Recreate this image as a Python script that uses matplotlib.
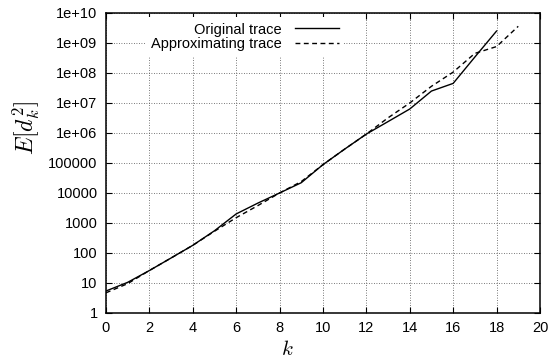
import matplotlib
matplotlib.use('Agg')
import matplotlib.pyplot as plt
from matplotlib.ticker import NullLocator

plt.rcParams['font.family'] = ['Liberation Sans', 'DejaVu Sans']
plt.rcParams['mathtext.fontset'] = 'cm'

# mean squared distance per step, measured trace
k_orig = list(range(19))
e_orig = [5.4, 10.5, 26, 68, 180, 550, 2000, 4600, 1.0e4, 2.2e4, 8.8e4, 2.9e5,
          9.2e5, 2.4e6, 6.3e6, 2.5e7, 4.5e7, 3.4e8, 2.5e9]

# fitted / approximating trace
k_approx = list(range(20))
e_approx = [4.7, 9.5, 26, 68, 180, 530, 1500, 3800, 1.0e4, 2.4e4, 8.8e4, 2.9e5,
            9.2e5, 3.2e6, 1.0e7, 3.6e7, 1.07e8, 4.5e8, 7.6e8, 3.6e9]

x_ticks = list(range(0, 21, 2))
y_ticks = [1, 10, 100, 1e3, 1e4, 1e5, 1e6, 1e7, 1e8, 1e9, 1e10]
y_tick_labels = ['1', '10', '100', '1000', '10000', '100000',
                 '1e+06', '1e+07', '1e+08', '1e+09', '1e+10']

fig = plt.figure(figsize=(5.49, 3.6), dpi=100)
ax = fig.add_axes([0.193, 0.1306, 0.7905, 0.8333])

ax.plot(k_orig, e_orig, color='black', lw=1.0, label='Original trace')
ax.plot(k_approx, e_approx, color='black', lw=1.0, dashes=(3.5, 2.5),
        label='Approximating trace')

ax.set_yscale('log')
ax.set_xlim(0, 20)
ax.set_ylim(1, 1e10)
ax.set_xticks(x_ticks)
ax.set_yticks(y_ticks, y_tick_labels)
ax.yaxis.set_minor_locator(NullLocator())
ax.xaxis.set_minor_locator(NullLocator())
ax.tick_params(direction='in', top=True, right=True, length=4, width=0.8,
               labelsize=10.5, pad=6, colors='black')
ax.grid(True, color='0.3', linestyle=(0, (1, 2)), linewidth=0.6)
for s in ax.spines.values():
    s.set_linewidth(1.1)

ax.set_xlabel('$k$', fontsize=15, va='center')
ax.xaxis.set_label_coords(0.419, -0.123)
ax.set_ylabel('$E[d_k^2]$', fontsize=17, va='center')
ax.yaxis.set_label_coords(-0.184, 0.617)

leg = ax.legend(loc='upper right', bbox_to_anchor=(0.548, 0.985),
                markerfirst=False, fontsize=10.5, handlelength=3.0,
                handletextpad=0.9, labelspacing=0.02, borderpad=0.35,
                borderaxespad=0, fancybox=False, framealpha=1,
                edgecolor='none', facecolor='white')

fig.savefig('out.png', dpi=100)
